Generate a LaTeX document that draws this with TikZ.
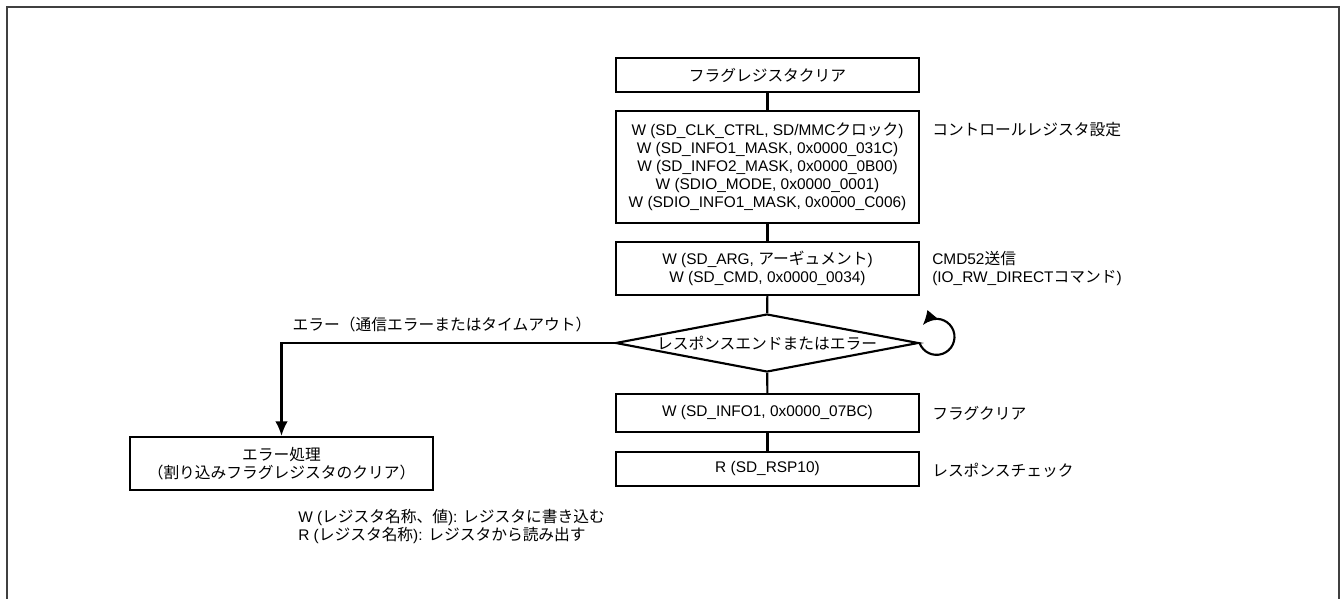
\documentclass[tikz,border=0pt]{standalone}
\usepackage{fontspec}
\setmainfont{Liberation Sans}[Scale=0.98]
\newfontfamily\jp{Noto Sans CJK JP}
\usetikzlibrary{shapes.geometric,arrows.meta}
\definecolor{framecol}{HTML}{404040}
\begin{document}
\begin{tikzpicture}[x=0.75pt,y=-0.75pt,
  every node/.style={font=\fontsize{11.8}{13.5}\selectfont, inner sep=0pt},
  jptext/.style={font=\fontsize{11.8}{13.5}\selectfont\jp},
  box/.style={draw, line width=1.6pt, rectangle, minimum width=227.25pt, align=center},
  conn/.style={line width=1.6pt},
  arr/.style={line width=1.6pt, -{Latex[length=11pt,width=9.5pt]}},
  note/.style={anchor=west, align=left}]
\useasboundingbox (0,0) rectangle (1341,599);
\draw[line width=1.2pt, color=framecol] (7,599) -- (7,7) -- (1339,7) -- (1339,599);

\node[box, jptext, minimum height=25.5pt] (b1) at (767.5,75) {フラグレジスタクリア};
\node[box, minimum height=84pt] (b2) at (767.5,167) {W (SD\_CLK\_CTRL, SD/MMC{\jp クロック})\\W (SD\_INFO1\_MASK, 0x0000\_031C)\\W (SD\_INFO2\_MASK, 0x0000\_0B00)\\W (SDIO\_MODE, 0x0000\_0001)\\W (SDIO\_INFO1\_MASK, 0x0000\_C006)};
\node[box, minimum height=39.75pt] (b3) at (767.5,268.5) {W (SD\_ARG, {\jp アーギュメント})\\W (SD\_CMD, 0x0000\_0034)};
\node[draw, diamond, line width=1.6pt, minimum width=227.25pt, minimum height=43.5pt, aspect=5.2] (d) at (767,343) {\makebox[0pt]{\jp レスポンスエンドまたはエラー}};
\node[box, minimum height=28.5pt] (b4) at (767.5,413) {W (SD\_INFO1, 0x0000\_07BC)};
\node[box, minimum height=25.5pt] (b5) at (767.5,469) {R (SD\_RSP10)};
\node[box, jptext, minimum height=39.75pt] (err) at (281.5,463.5) {エラー処理\\（割り込みフラグレジスタのクリア）};

\draw[conn] (b1) -- (b2);
\draw[conn] (b2) -- (b3);
\draw[conn] (b3) -- (d);
\draw[conn] (d) -- (b4);
\draw[conn] (b4) -- (b5);
\draw[arr] (d.west) -| (err.north);
\draw[arr] (d.east) arc[start angle=160, end angle=-140, radius=18];

\node[note, jptext] (n1) at (932,130) {コントロールレジスタ設定};
\node[note] (n2) at (932,268.5) {CMD52{\jp 送信}\\(IO\_RW\_DIRECT{\jp コマンド})};
\node[note, jptext] (n3) at (932,413) {フラグクリア};
\node[note, jptext] (n4) at (932,470) {レスポンスチェック};
\node[jptext] (elab) at (442,325) {エラー（通信エラーまたはタイムアウト）};
\node[note] (legend) at (298,526.5) {W ({\jp レジスタ名称、値}): {\jp レジスタに書き込む}\\R ({\jp レジスタ名称}): {\jp レジスタから読み出す}};
\end{tikzpicture}
\end{document}
